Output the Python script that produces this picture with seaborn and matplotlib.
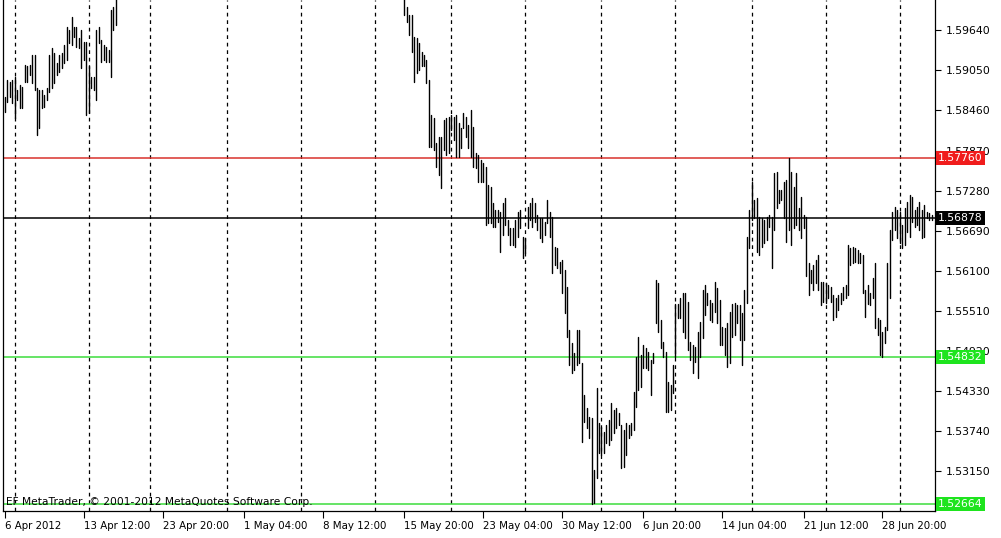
import pandas as pd
import numpy as np
import matplotlib.pyplot as plt
import matplotlib.transforms as mtransforms
import seaborn as sns

# H4 bars (high / low per bar); the middle stretch runs above the visible window
seg1_start = 0
seg1_high = [1.5866, 1.5891, 1.5888, 1.5891, 1.5895, 1.5876, 1.5884, 1.5881, 1.5913, 1.5911,
             1.5913, 1.5928, 1.5928, 1.5879, 1.5876, 1.5876, 1.5869, 1.5879, 1.5928, 1.5938,
             1.5931, 1.5916, 1.5928, 1.5931, 1.5942, 1.5969, 1.5965, 1.5984, 1.5969, 1.5969,
             1.5952, 1.5965, 1.5947, 1.5947, 1.5911, 1.5895, 1.5895, 1.5965, 1.5969, 1.5950,
             1.5942, 1.5939, 1.5935, 1.5994, 1.5998, 1.6030]
seg1_low = [1.5844, 1.5858, 1.5866, 1.5857, 1.5835, 1.5861, 1.5850, 1.5850, 1.5888, 1.5888,
            1.5898, 1.5886, 1.5876, 1.5810, 1.5820, 1.5850, 1.5851, 1.5861, 1.5873, 1.5879,
            1.5886, 1.5898, 1.5903, 1.5909, 1.5916, 1.5920, 1.5945, 1.5942, 1.5954, 1.5939,
            1.5938, 1.5909, 1.5920, 1.5839, 1.5842, 1.5879, 1.5876, 1.5861, 1.5945, 1.5917,
            1.5920, 1.5917, 1.5917, 1.5895, 1.5965, 1.5972]

seg2_start = 162
seg2_high = [1.6030, 1.5998, 1.5987, 1.5987, 1.5954, 1.5952, 1.5945, 1.5932, 1.5928, 1.5920,
             1.5891, 1.5839, 1.5835, 1.5798, 1.5807, 1.5807, 1.5832, 1.5835, 1.5836, 1.5839,
             1.5836, 1.5839, 1.5827, 1.5820, 1.5842, 1.5836, 1.5825, 1.5847, 1.5822, 1.5783,
             1.5780, 1.5773, 1.5769, 1.5763, 1.5736, 1.5733, 1.5710, 1.5699, 1.5699, 1.5696,
             1.5710, 1.5717, 1.5685, 1.5673, 1.5673, 1.5685, 1.5696, 1.5699, 1.5660, 1.5658,
             1.5704, 1.5710, 1.5717, 1.5710, 1.5692, 1.5688, 1.5688, 1.5682, 1.5714, 1.5696,
             1.5689, 1.5645, 1.5643, 1.5623, 1.5626, 1.5611, 1.5586, 1.5523, 1.5503, 1.5489,
             1.5523, 1.5523, 1.5474, 1.5427, 1.5408, 1.5394, 1.5393, 1.5316, 1.5437, 1.5386,
             1.5380, 1.5372, 1.5383, 1.5390, 1.5415, 1.5405, 1.5408, 1.5400, 1.5383, 1.5375,
             1.5386, 1.5383, 1.5386, 1.5431, 1.5483, 1.5512, 1.5486, 1.5501, 1.5496, 1.5490,
             1.5478, 1.5489, 1.5596, 1.5592, 1.5537, 1.5505, 1.5490, 1.5446, 1.5442, 1.5471,
             1.5561, 1.5561, 1.5570, 1.5577, 1.5577, 1.5564, 1.5505, 1.5501, 1.5498, 1.5520,
             1.5534, 1.5582, 1.5589, 1.5577, 1.5567, 1.5563, 1.5593, 1.5584, 1.5567, 1.5527,
             1.5526, 1.5533, 1.5549, 1.5561, 1.5563, 1.5560, 1.5560, 1.5548, 1.5582, 1.5660,
             1.5699, 1.5741, 1.5714, 1.5717, 1.5689, 1.5688, 1.5685, 1.5689, 1.5692, 1.5689,
             1.5754, 1.5755, 1.5729, 1.5729, 1.5741, 1.5744, 1.5776, 1.5755, 1.5733, 1.5754,
             1.5702, 1.5719, 1.5692, 1.5689, 1.5621, 1.5611, 1.5618, 1.5626, 1.5633, 1.5593,
             1.5593, 1.5592, 1.5589, 1.5586, 1.5574, 1.5570, 1.5574, 1.5577, 1.5586, 1.5589,
             1.5648, 1.5643, 1.5645, 1.5643, 1.5640, 1.5636, 1.5633, 1.5582, 1.5589, 1.5577,
             1.5599, 1.5621, 1.5540, 1.5537, 1.5520, 1.5527, 1.5621, 1.5670, 1.5696, 1.5704,
             1.5699, 1.5696, 1.5677, 1.5702, 1.5711, 1.5722, 1.5719, 1.5699, 1.5704, 1.5711,
             1.5699, 1.5707, 1.5696, 1.5695, 1.5692]
seg2_low = [1.5987, 1.5976, 1.5957, 1.5932, 1.5888, 1.5901, 1.5906, 1.5911, 1.5911, 1.5886,
            1.5792, 1.5792, 1.5788, 1.5763, 1.5751, 1.5732, 1.5788, 1.5780, 1.5783, 1.5817,
            1.5803, 1.5777, 1.5777, 1.5791, 1.5820, 1.5807, 1.5791, 1.5777, 1.5763, 1.5761,
            1.5741, 1.5741, 1.5741, 1.5677, 1.5680, 1.5680, 1.5674, 1.5674, 1.5682, 1.5638,
            1.5663, 1.5677, 1.5663, 1.5648, 1.5648, 1.5645, 1.5660, 1.5673, 1.5629, 1.5636,
            1.5673, 1.5685, 1.5674, 1.5682, 1.5670, 1.5658, 1.5652, 1.5663, 1.5680, 1.5660,
            1.5607, 1.5618, 1.5614, 1.5607, 1.5577, 1.5548, 1.5512, 1.5471, 1.5459, 1.5464,
            1.5471, 1.5474, 1.5358, 1.5387, 1.5378, 1.5364, 1.5266, 1.5268, 1.5305, 1.5341,
            1.5339, 1.5341, 1.5356, 1.5353, 1.5361, 1.5371, 1.5378, 1.5383, 1.5319, 1.5321,
            1.5339, 1.5364, 1.5368, 1.5375, 1.5409, 1.5434, 1.5439, 1.5467, 1.5467, 1.5464,
            1.5427, 1.5474, 1.5533, 1.5520, 1.5496, 1.5483, 1.5402, 1.5402, 1.5405, 1.5430,
            1.5483, 1.5540, 1.5540, 1.5520, 1.5511, 1.5493, 1.5478, 1.5459, 1.5475, 1.5452,
            1.5483, 1.5511, 1.5545, 1.5560, 1.5537, 1.5534, 1.5549, 1.5533, 1.5501, 1.5501,
            1.5486, 1.5468, 1.5474, 1.5512, 1.5515, 1.5533, 1.5508, 1.5471, 1.5508, 1.5563,
            1.5643, 1.5685, 1.5688, 1.5638, 1.5633, 1.5645, 1.5651, 1.5655, 1.5674, 1.5614,
            1.5670, 1.5702, 1.5710, 1.5714, 1.5688, 1.5652, 1.5670, 1.5648, 1.5673, 1.5677,
            1.5670, 1.5658, 1.5673, 1.5602, 1.5574, 1.5592, 1.5582, 1.5592, 1.5582, 1.5560,
            1.5564, 1.5563, 1.5570, 1.5564, 1.5537, 1.5542, 1.5552, 1.5561, 1.5567, 1.5570,
            1.5574, 1.5618, 1.5621, 1.5623, 1.5621, 1.5621, 1.5577, 1.5542, 1.5561, 1.5559,
            1.5570, 1.5526, 1.5515, 1.5486, 1.5483, 1.5503, 1.5523, 1.5570, 1.5655, 1.5670,
            1.5658, 1.5651, 1.5643, 1.5648, 1.5667, 1.5660, 1.5682, 1.5674, 1.5677, 1.5670,
            1.5658, 1.5660, 1.5688, 1.5685, 1.5684]

date_labels = ["6 Apr 2012", "13 Apr 12:00", "23 Apr 20:00", "1 May 04:00", "8 May 12:00",
               "15 May 20:00", "23 May 04:00", "30 May 12:00", "6 Jun 20:00", "14 Jun 04:00",
               "21 Jun 12:00", "28 Jun 20:00"]
date_label_bars = [0, 32, 64, 97, 129, 162, 194, 226, 259, 291, 324, 356]
week_start_bars = [4, 34, 59, 90, 120, 150, 181, 211, 242, 272, 303, 333, 363]

price_ticks = [1.59640, 1.59050, 1.58460, 1.57870, 1.57280, 1.56690,
               1.56100, 1.55510, 1.54920, 1.54330, 1.53740, 1.53150]

level_prices = [1.57760, 1.56878, 1.54832, 1.52664]
level_line_colors = ["#d8322c", "#000000", "#3cdc3c", "#3cdc3c"]
level_box_colors = ["#f01c1c", "#000000", "#1ee41e", "#1ee41e"]

rows = []
for start, highs, lows in [(seg1_start, seg1_high, seg1_low), (seg2_start, seg2_high, seg2_low)]:
    for i, (h, l) in enumerate(zip(highs, lows)):
        rows.append({"bar": start + i, "price": h})
        rows.append({"bar": start + i, "price": l})
bars = pd.DataFrame(rows)

sns.set_style("white")
plt.rcParams["font.family"] = ["DejaVu Sans"]

fig = plt.figure(figsize=(10.01, 5.38), dpi=100)
ax = fig.add_axes([3 / 1001, 27 / 538, 932 / 1001, 511 / 538])

for x in week_start_bars:
    ax.axvline(x, color="black", lw=0.9, linestyle=(0, (3, 3)), zorder=1)

for p, c in zip(level_prices, level_line_colors):
    ax.axhline(p, color=c, lw=1.1, zorder=1.5)

sns.lineplot(data=bars, x="bar", y="price", units="bar", estimator=None,
             color="black", linewidth=1.0, ax=ax, legend=False, zorder=2)

ax.set_xlim(-0.8, 377.3)
ax.set_ylim(1.5256, 1.60087)

ax.text(0.003, 0.0176, "EF MetaTrader, © 2001-2012 MetaQuotes Software Corp.",
        transform=ax.transAxes, fontsize=7.7, va="center", ha="left", color="black", zorder=4)

# y axis on the right, like the terminal
ax.yaxis.tick_right()
ax.set_yticks(price_ticks)
ax.set_yticklabels([f"{t:.5f}" for t in price_ticks])
ax.tick_params(axis="y", right=True, left=False, direction="out", length=4, width=0.8,
               color="black", pad=4, labelsize=7.8, labelcolor="black")

ax.set_xticks(date_label_bars)
ax.set_xticklabels(date_labels)
ax.tick_params(axis="x", bottom=True, direction="out", length=5, width=0.8,
               color="black", pad=2, labelsize=7.4, labelcolor="black")
for lbl in ax.get_xticklabels():
    lbl.set_ha("left")

ax.set_xlabel("")
ax.set_ylabel("")

trans = mtransforms.blended_transform_factory(ax.transAxes, ax.transData)
for p, c in zip(level_prices, level_box_colors):
    ax.text(1.0035, p, f"{p:.5f}", transform=trans, color="white", fontsize=7.8,
            va="center", ha="left", clip_on=False, zorder=6,
            bbox=dict(boxstyle="square,pad=0.2", fc=c, ec="none"))

for side in ["left", "bottom", "right"]:
    ax.spines[side].set_visible(True)
    ax.spines[side].set_color("black")
    ax.spines[side].set_linewidth(0.9)
ax.spines["top"].set_visible(False)

fig.savefig("out.png", dpi=100, facecolor="white")
